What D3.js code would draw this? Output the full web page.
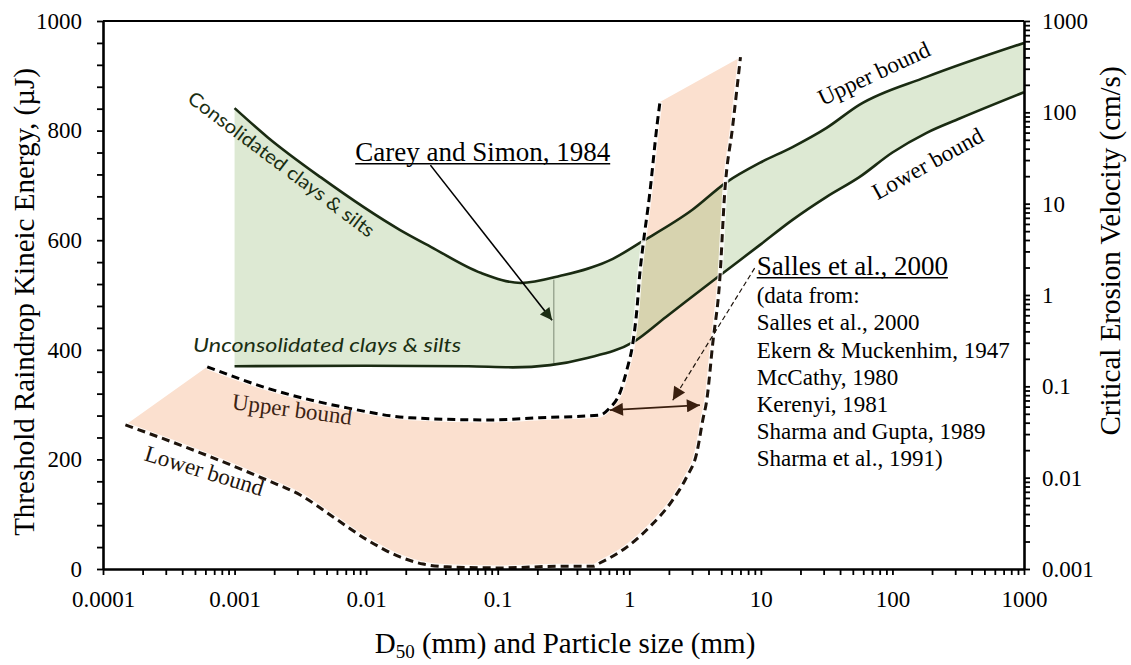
<!DOCTYPE html>
<html>
<head>
<meta charset="utf-8">
<script src="https://cdn.jsdelivr.net/npm/d3@7"></script>
<style>
  body { margin: 0; background: #fff; }
  svg text { font-family: "Liberation Serif", "Times New Roman", serif; }
</style>
</head>
<body>
<svg id="chart"></svg>
<script>
// ---- data (particle size in mm, threshold energy in µJ) ----
const consolidatedX = [0.001, 0.00178, 0.0045, 0.018, 0.031, 0.075, 0.15, 0.3, 0.75, 1.2, 3.0, 5.5, 9.8, 17.4, 31.6, 56, 182, 1000];
const consolidatedY = [841, 788, 715, 619, 588, 540, 522, 535, 566, 595, 655, 706, 741, 770, 805, 847, 898, 960];

const unconsolidatedX = [0.001, 0.01, 0.06, 0.13, 0.25, 0.48, 1.07, 1.9, 4.6, 9.8, 17.4, 31.6, 56, 100, 182, 324, 1000];
const unconsolidatedY = [370, 371, 370, 368, 372, 385, 414, 460, 531, 591, 637, 679, 715, 760, 796, 822, 870];

const sallesUpperX = [0.00062, 0.00177, 0.00716, 0.0215, 0.087, 0.209, 0.597, 0.711, 0.847, 0.957, 1.064, 1.142, 1.203, 1.268, 1.432, 1.62, 1.71];
const sallesUpperY = [369, 330, 294, 276, 272, 276, 281, 294, 321, 363, 412, 473, 540, 588, 686, 807, 852];

const sallesLowerX = [0.000148, 0.00055, 0.00177, 0.00316, 0.00561, 0.0102, 0.0181, 0.0271, 0.0412, 0.104, 0.297, 0.53, 0.597, 0.957, 1.43, 2.14, 2.73, 3.26, 3.62, 3.88, 4.31, 4.87, 5.31, 6.1, 7.0];
const sallesLowerY = [263, 212, 162, 135, 95, 53, 22, 9, 4, 2, 5, 5, 11, 40, 77, 126, 168, 212, 272, 308, 412, 527, 686, 807, 934];

const careyMarkX = 0.267;
const careyMarkY = [375, 528];

const xDecades = [0.0001, 0.001, 0.01, 0.1, 1, 10, 100, 1000];
const xTickLabels = ["0.0001", "0.001", "0.01", "0.1", "1", "10", "100", "1000"];
const yLeftTicks = [0, 200, 400, 600, 800, 1000];
const yRightDecades = [0.001, 0.01, 0.1, 1, 10, 100, 1000];
const yRightLabels = ["0.001", "0.01", "0.1", "1", "10", "100", "1000"];

const sallesRefs = ["(data from:", "Salles et al., 2000", "Ekern & Muckenhim, 1947", "McCathy, 1980",
                    "Kerenyi, 1981", "Sharma and Gupta, 1989", "Sharma et al., 1991)"];

// ---- layout ----
const margin = {top: 21, right: 107, bottom: 96, left: 103};
const width = 1131 - margin.left - margin.right;
const height = 665 - margin.top - margin.bottom;

const root = d3.select("#chart").attr("width", 1131).attr("height", 665);
const defs = root.append("defs");
const svg = root.append("g").attr("transform", `translate(${margin.left},${margin.top})`);

const x = d3.scaleLog().domain([1e-4, 1e3]).range([0, width]);
const y = d3.scaleLinear().domain([0, 1000]).range([height, 0]);
const yR = d3.scaleLog().domain([1e-3, 1e3]).range([height, 0]);

const line = d3.line().x(d => x(d[0])).y(d => y(d[1])).curve(d3.curveMonotoneX);
const band = (a, b) => line(a) + line(b.slice().reverse()).replace(/^M/, "L") + "Z";

const consolidated = d3.zip(consolidatedX, consolidatedY);
const unconsolidated = d3.zip(unconsolidatedX, unconsolidatedY);
const sallesUpper = d3.zip(sallesUpperX, sallesUpperY);
const sallesLower = d3.zip(sallesLowerX, sallesLowerY);

// markers
function marker(id, color, w, h) {
  defs.append("marker").attr("id", id)
    .attr("viewBox", "0 0 10 10").attr("refX", 10).attr("refY", 5)
    .attr("markerWidth", w).attr("markerHeight", h)
    .attr("markerUnits", "userSpaceOnUse").attr("orient", "auto-start-reverse")
    .append("path").attr("d", "M0,0L10,5L0,10Z").attr("fill", color);
}
marker("headGreen", "#1c2e14", 16, 12);
marker("headBrown", "#3a1f0f", 16, 13);

// fills
const greenPath = band(consolidated, unconsolidated);
const pinkPath = band(sallesUpper, sallesLower);
defs.append("clipPath").attr("id", "greenClip").append("path").attr("d", greenPath);

svg.append("path").attr("d", greenPath).attr("fill", "#dde9d3");
svg.append("path").attr("d", pinkPath).attr("fill", "#fbe0cf");
svg.append("path").attr("d", pinkPath).attr("fill", "#d7d3af").attr("clip-path", "url(#greenClip)");

// thin marker line inside band
svg.append("line")
  .attr("x1", x(careyMarkX)).attr("x2", x(careyMarkX))
  .attr("y1", y(careyMarkY[0])).attr("y2", y(careyMarkY[1]))
  .attr("stroke", "#7d8a75").attr("stroke-width", 1);

// green bounds
[consolidated, unconsolidated].forEach(d => {
  svg.append("path").attr("d", line(d)).attr("fill", "none")
    .attr("stroke", "#1a2b12").attr("stroke-width", 2.6);
});

// dashed Salles bounds
[[sallesUpper, "#000"], [sallesLower, "#1e140c"]].forEach(([d, c]) => {
  svg.append("path").attr("d", line(d)).attr("fill", "none")
    .attr("stroke", "#fff").attr("stroke-width", 5).attr("stroke-opacity", 0.85);
  svg.append("path").attr("d", line(d)).attr("fill", "none")
    .attr("stroke", c).attr("stroke-width", 3).attr("stroke-dasharray", "8,5");
});

// annotations
svg.append("line")
  .attr("x1", x(0.0308)).attr("y1", y(737)).attr("x2", x(0.259)).attr("y2", y(454))
  .attr("stroke", "#000").attr("stroke-width", 1.6).attr("marker-end", "url(#headGreen)");

svg.append("line")
  .attr("x1", x(0.713)).attr("y1", y(290)).attr("x2", x(3.44)).attr("y2", y(299))
  .attr("stroke", "#3a1f0f").attr("stroke-width", 1.6)
  .attr("marker-start", "url(#headBrown)").attr("marker-end", "url(#headBrown)");

svg.append("line")
  .attr("x1", x(8.97)).attr("y1", y(549)).attr("x2", x(2.14)).attr("y2", y(308))
  .attr("stroke", "#1e140c").attr("stroke-width", 1.2).attr("stroke-dasharray", "5,3")
  .attr("marker-end", "url(#headBrown)");

// text labels
function underlined(txt, xv, yv, size) {
  const t = svg.append("text").attr("x", x(xv)).attr("y", y(yv))
    .attr("font-size", size).attr("fill", "#000").text(txt);
  const w = t.node().getComputedTextLength();
  svg.append("line").attr("x1", x(xv)).attr("x2", x(xv) + w)
    .attr("y1", y(yv) + 3).attr("y2", y(yv) + 3)
    .attr("stroke", "#000").attr("stroke-width", 1.6);
}
underlined("Carey and Simon, 1984", 0.00826, 745, "27px");
underlined("Salles et al., 2000", 9.3, 537, "27px");

svg.append("text").attr("x", x(9.3)).attr("y", y(485))
  .attr("font-size", "23px").attr("fill", "#000")
  .selectAll("tspan").data(sallesRefs).join("tspan")
  .attr("x", x(9.3)).attr("dy", (d, i) => i === 0 ? 0 : 27.2)
  .text(d => d);

function rotLabel(txt, xv, yv, angle, opts) {
  const t = svg.append("text")
    .attr("transform", `translate(${x(xv)},${y(yv)}) rotate(${angle})`)
    .attr("font-size", opts.size).attr("fill", opts.color)
    .text(txt);
  if (opts.family) t.style("font-family", opts.family);
  if (opts.italic) t.attr("font-style", "italic");
  if (opts.len) t.attr("textLength", opts.len).attr("lengthAdjust", "spacingAndGlyphs");
}
rotLabel("Consolidated clays & silts", 0.00043, 854, 37, {size: "19px", color: "#1a2e12", family: "Lato, 'Open Sans', sans-serif", len: 228});
rotLabel("Unconsolidated clays & silts", 0.000484, 396, 0, {size: "20px", color: "#1a2e12", family: "Lato, 'Open Sans', sans-serif", italic: true, len: 268});
rotLabel("Upper bound", 0.000944, 292, 7.5, {size: "23px", color: "#3b2314"});
rotLabel("Lower bound", 0.000202, 199, 17, {size: "23px", color: "#1e140c"});
rotLabel("Upper bound", 29.4, 845, -25, {size: "23px", color: "#000"});
rotLabel("Lower bound", 77, 673, -29, {size: "23px", color: "#000"});

// axes
const xTicks = xDecades.slice(0, -1).flatMap(d => d3.range(1, 10).map(k => k === 1 ? d : k * d)).concat([1000]);
const xAxis = d3.axisBottom(x).tickValues(xTicks).tickSize(6).tickSizeOuter(0).tickPadding(16)
  .tickFormat(d => { const i = xDecades.indexOf(d); return i >= 0 ? xTickLabels[i] : ""; });
const yAxis = d3.axisLeft(y).tickValues(d3.range(0, 1001, 40)).tickSize(6).tickSizeOuter(0).tickPadding(15)
  .tickFormat(d => yLeftTicks.includes(d) ? d : "");
const yrTicks = yRightDecades.slice(0, -1).flatMap(d => d3.range(1, 10).map(k => k === 1 ? d : k * d)).concat([1000]);
const yRAxis = d3.axisRight(yR).tickValues(yrTicks).tickSize(6).tickSizeOuter(0).tickPadding(12)
  .tickFormat(d => { const i = yRightDecades.indexOf(d); return i >= 0 ? yRightLabels[i] : ""; });

svg.append("line").attr("x1", 0).attr("x2", width).attr("y1", 0).attr("y2", 0)
  .attr("stroke", "#000").attr("stroke-width", 2.2);

const gx = svg.append("g").attr("transform", `translate(0,${height})`).call(xAxis);
const gy = svg.append("g").call(yAxis);
const gr = svg.append("g").attr("transform", `translate(${width},0)`).call(yRAxis);

[gx, gy, gr].forEach(g => {
  g.select(".domain").attr("stroke-width", 2.6);
  g.selectAll(".tick line").attr("stroke-width", 1.8);
  g.selectAll(".tick text").attr("font-size", "23px")
    .style("font-family", "'Liberation Serif', 'Times New Roman', serif").attr("fill", "#000");
});

// axis titles
svg.append("text")
  .attr("transform", `translate(${34 - margin.left},${302 - margin.top}) rotate(-90)`)
  .attr("text-anchor", "middle").attr("font-size", "29px").attr("fill", "#000")
  .text("Threshold Raindrop Kineic Energy, (µJ)");

svg.append("text")
  .attr("transform", `translate(${1120 - margin.left},${251 - margin.top}) rotate(-90)`)
  .attr("text-anchor", "middle").attr("font-size", "29px").attr("fill", "#000")
  .text("Critical Erosion Velocity (cm/s)");

const xt = svg.append("text")
  .attr("x", 565 - margin.left).attr("y", 653 - margin.top)
  .attr("text-anchor", "middle").attr("font-size", "29px").attr("fill", "#000");
xt.append("tspan").text("D");
xt.append("tspan").attr("font-size", "19px").attr("dy", 5).text("50");
xt.append("tspan").attr("dy", -5).text(" (mm) and Particle size (mm)");
</script>
</body>
</html>
